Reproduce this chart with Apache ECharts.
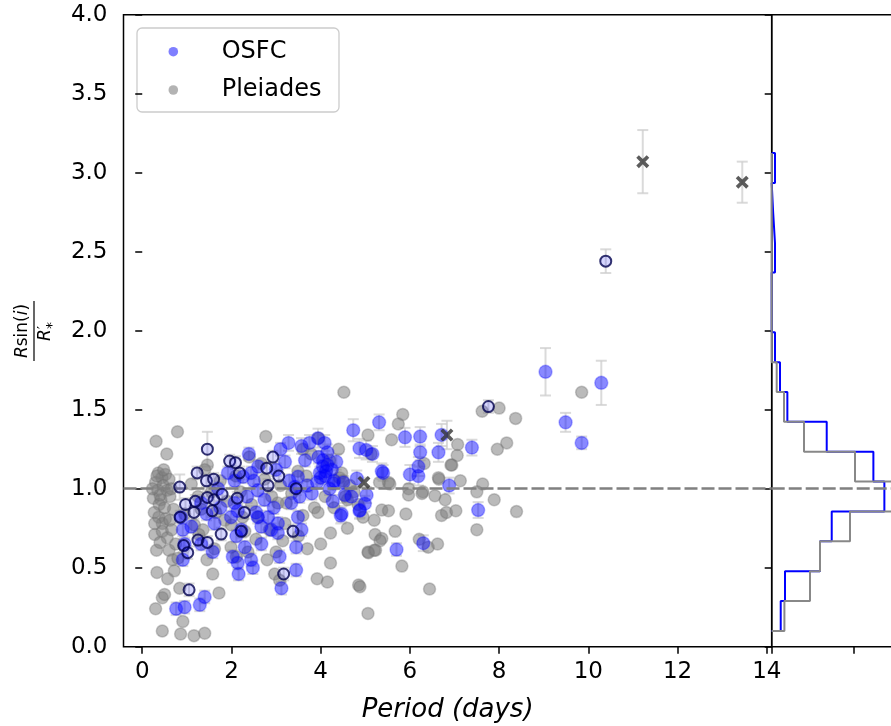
<!DOCTYPE html>
<html>
<head>
<meta charset="utf-8">
<script src="https://cdn.jsdelivr.net/npm/echarts@6/dist/echarts.min.js"></script>
<style>
  html, body { margin: 0; padding: 0; background: #fff; }
  #chart { width: 891px; height: 726px; }
</style>
</head>
<body>
<div id="chart"></div>
<script>
// Period (days) vs projected radius ratio, with marginal histograms of the ratio.

// x-axis tick values
const xTicks = [0, 2, 4, 6, 8, 10, 12, 14];

// Pleiades: [period, ratio]
const pleiades = [
  [0.31,1.30],[0.55,1.22],[0.79,1.36],[0.36,1.10],[0.52,1.09],[0.44,1.07],[0.60,1.06],[0.30,1.04],
  [0.47,1.02],[0.35,0.99],[0.56,0.99],[0.25,0.94],[0.42,0.93],[0.62,0.95],[0.38,0.90],[0.27,0.85],
  [0.37,0.82],[0.52,0.81],[0.45,0.78],[0.62,0.80],[0.28,0.71],[0.45,0.73],[0.56,0.69],[0.32,0.61],
  [0.60,0.61],[0.33,0.47],[0.57,0.43],[0.72,0.48],[0.84,0.37],[0.45,0.31],[0.50,0.33],[0.30,0.24],
  [0.91,0.16],[0.45,0.10],[0.86,0.08],[1.16,0.07],[1.40,0.085],[1.58,0.46],[1.72,0.34],
  [0.33,1.08],[0.48,1.12],[0.40,0.96],[0.65,1.00],[0.70,0.87],[0.50,0.88],[0.23,1.00],[0.28,0.78],
  [0.66,0.74],[0.40,0.66],[0.75,0.65],[0.68,0.55],[0.80,0.56],
  [0.95,0.84],[1.17,0.77],[1.32,0.87],[1.36,0.74],[1.27,0.71],[2.11,0.57],[1.99,0.63],[2.37,0.60],
  [2.67,1.16],[2.74,1.06],[3.23,0.91],[3.04,0.91],[3.86,0.88],[3.94,0.85],[3.79,1.22],[3.49,1.11],
  [3.68,1.08],[4.42,1.07],[4.84,0.90],[1.46,1.15],[1.40,1.12],[2.77,1.33],[1.10,1.03],[1.55,0.98],
  [1.75,1.05],[1.90,0.92],[2.20,0.98],[2.45,0.90],[2.60,0.82],[2.90,0.95],[3.10,1.02],[3.35,0.97],
  [1.85,0.80],[2.30,0.73],[2.55,0.68],[2.85,0.74],[3.20,0.78],[3.60,0.83],[1.62,0.62],[1.45,0.55],
  [2.80,0.55],[3.00,0.60],[3.15,0.67],[2.97,0.46],[3.08,0.42],[3.92,0.43],[4.15,0.41],[4.85,0.39],
  [4.88,0.38],[4.22,0.53],[4.22,0.72],[5.06,0.21],[5.06,0.60],[5.20,0.61],[5.22,0.71],[5.20,0.80],
  [4.52,1.61],[5.06,1.34],[5.13,1.22],[4.10,0.95],[4.30,0.88],[4.55,0.95],[4.65,1.02],[4.40,1.25],
  [3.60,1.25],[3.95,1.32],[4.20,1.18],[2.40,1.20],[2.10,1.08],[1.25,0.95],[1.65,0.85],[2.00,0.77],
  [2.25,0.82],[3.50,0.70],[3.70,0.62],[4.00,0.65],[4.60,0.75],[4.95,0.82],[4.47,1.10],
  [5.84,1.47],[5.74,1.41],[5.59,1.31],[7.07,1.28],[7.06,1.21],[6.94,1.15],[7.62,1.49],[8.00,1.51],
  [8.37,1.445],[8.17,1.29],[7.96,1.25],[9.85,1.61],[5.32,1.04],[5.52,1.04],[5.55,1.03],[5.97,1.00],
  [5.97,0.96],[6.29,0.98],[6.27,0.97],[6.65,1.06],[7.13,1.05],[7.63,1.03],[7.50,0.98],[7.89,0.93],
  [6.56,0.955],[6.79,0.93],[6.71,0.83],[6.82,0.85],[7.03,0.86],[8.39,0.855],[5.37,0.865],[5.52,0.86],
  [5.91,0.84],[5.37,0.685],[5.33,0.67],[5.67,0.73],[5.07,0.595],[5.23,0.61],[5.82,0.51],[6.21,0.68],
  [6.41,0.63],[6.62,0.65],[6.44,0.365],[7.50,0.74],[6.32,1.16],[6.92,1.15],[6.64,1.07],[4.50,1.05],
  [4.60,0.93],[4.75,0.98]
];

// OSFC: [period, ratio, error]
const osfc = [
  [4.73,1.37,0.07],[4.87,1.255,0.06],[5.02,1.245,0.06],[5.16,1.22,0.05],[2.39,1.22,0.04],[3.28,1.29,0.05],
  [3.57,1.27,0.05],[3.75,1.29,0.05],[3.94,1.32,0.06],[4.09,1.29,0.05],[3.95,1.20,0.04],[4.05,1.18,0.04],
  [4.15,1.15,0.04],[4.25,1.12,0.04],[3.98,1.10,0.04],[4.10,1.08,0.04],[4.30,1.05,0.04],[4.20,1.00,0.04],
  [3.92,1.04,0.04],[4.05,1.14,0.04],[4.35,1.17,0.05],[4.15,1.23,0.05],[4.00,1.07,0.04],[4.12,1.11,0.04],
  [4.69,0.95,0.05],[4.87,0.86,0.05],[4.99,0.905,0.05],[4.54,0.96,0.05],[4.27,0.92,0.04],[4.45,0.83,0.05],
  [3.49,1.075,0.04],[3.42,1.01,0.04],[3.53,0.95,0.04],[3.34,0.91,0.04],[3.49,0.82,0.04],[3.57,0.74,0.04],
  [3.45,0.63,0.04],[3.45,0.485,0.04],[3.12,0.37,0.04],[1.92,1.10,0.04],[2.07,1.05,0.04],[2.26,1.075,0.04],
  [2.44,1.10,0.04],[2.59,0.99,0.04],[2.74,0.93,0.04],[2.59,0.82,0.04],[2.67,0.76,0.04],[2.82,0.82,0.04],
  [3.04,0.78,0.04],[2.89,0.74,0.04],[3.04,0.72,0.04],[2.07,0.91,0.04],[2.14,0.86,0.04],[1.99,0.82,0.04],
  [2.11,0.70,0.04],[2.22,0.74,0.04],[2.03,0.57,0.04],[2.14,0.53,0.04],[2.16,0.46,0.04],[2.44,0.55,0.04],
  [2.48,0.50,0.04],[2.67,0.65,0.04],[3.08,0.57,0.04],[0.91,0.74,0.04],[0.95,0.65,0.04],[0.91,0.55,0.04],
  [1.32,0.65,0.04],[1.58,0.60,0.04],[1.62,0.78,0.04],[1.44,0.84,0.04],[1.32,0.91,0.04],[0.76,0.24,0.04],
  [0.95,0.25,0.04],[1.29,0.265,0.04],[1.40,0.315,0.04],[0.87,0.82,0.04],[1.10,0.76,0.04],
  [9.04,1.74,0.15],[9.49,1.42,0.06],[9.85,1.29,0.04],[10.29,1.67,0.14],[5.31,1.42,0.05],[5.89,1.325,0.06],
  [6.23,1.33,0.06],[6.23,1.23,0.05],[6.64,1.23,0.06],[6.71,1.34,0.07],[7.39,1.26,0.05],[5.37,1.11,0.05],
  [5.40,1.10,0.05],[6.00,1.09,0.06],[6.19,1.08,0.06],[6.19,1.14,0.06],[4.81,1.065,0.05],[4.51,1.04,0.04],
  [4.28,1.035,0.04],[5.03,0.96,0.05],[4.88,0.865,0.05],[4.47,0.84,0.05],[6.88,1.02,0.05],[7.53,0.865,0.05],
  [5.70,0.615,0.04],[6.30,0.655,0.05],
  [3.10,1.25,0.04],[3.20,1.17,0.04],[3.00,1.12,0.04],[2.60,1.14,0.04],[2.50,1.05,0.04],[3.30,1.05,0.04],
  [3.65,1.18,0.04],[3.70,1.02,0.04],[3.80,0.97,0.04],[2.95,0.88,0.04],[2.35,0.95,0.04],[1.75,0.88,0.04],
  [1.70,1.00,0.04],[2.30,0.63,0.04],[2.55,0.85,0.04]
];

// OSFC, flagged members (outlined): [period, ratio, error]
const osfcFlagged = [
  [1.46,1.25,0.11],[1.23,1.10,0.04],[1.44,1.05,0.04],[1.60,1.06,0.04],[1.96,1.175,0.04],[2.09,1.165,0.04],
  [2.18,1.10,0.04],[0.84,1.01,0.08],[1.19,0.92,0.04],[0.97,0.90,0.04],[1.16,0.85,0.04],[1.46,0.945,0.04],
  [1.61,0.93,0.04],[1.79,0.965,0.04],[1.57,0.86,0.04],[2.13,0.94,0.04],[0.85,0.82,0.04],[2.29,0.85,0.04],
  [2.93,1.20,0.04],[2.79,1.13,0.04],[3.06,1.08,0.04],[2.82,1.02,0.04],[3.45,1.00,0.04],[1.77,0.713,0.04],
  [2.22,0.73,0.04],[1.25,0.675,0.04],[1.46,0.66,0.04],[0.93,0.64,0.04],[1.02,0.595,0.04],[3.38,0.73,0.04],
  [3.17,0.46,0.04],[1.05,0.36,0.04],[7.76,1.52,0.04],[10.39,2.44,0.075]
];

// OSFC, excluded members (crosses): [period, ratio, error]
const osfcExcluded = [
  [4.97,1.04,0.03],[6.83,1.34,0.09],[11.22,3.07,0.20],[13.45,2.94,0.13]
];

// marginal histograms of the ratio (probability density)
const histEdges = [0.100,0.289,0.478,0.667,0.856,1.045,1.234,1.423,1.612,1.801,1.990,2.179,2.368,2.557,2.746,2.935,3.124];
const histOsfc = [0.110,0.162,0.589,0.732,1.374,1.240,0.671,0.191,0.101,0.040,0,0,0.040,0.018,0,0.040];
const histPleiades = [0.155,0.467,0.589,0.955,1.550,1.016,0.394,0.150,0.061,0,0,0,0,0,0,0];

// horizontal reference level
const refLevel = 1.0;

// legend entries
const legendNames = ['OSFC', 'Pleiades'];
const legendColors = ['rgba(0,0,255,0.5)', 'rgba(128,128,128,0.6)'];

// ---------------------------------------------------------------
const FONT = 'DejaVu Sans';

function stepOutline(edges, dens) {
  const pts = [[0, edges[0]]];
  for (let i = 0; i < dens.length; i++) {
    pts.push([dens[i], edges[i]]);
    pts.push([dens[i], edges[i + 1]]);
  }
  pts.push([0, edges[edges.length - 1]]);
  return pts;
}

const errRows = []
  .concat(osfc, osfcFlagged, osfcExcluded)
  .map(d => [d[0], d[1] - d[2], d[1] + d[2]]);

const crossPath = 'path://M2,0L5,3L8,0L10,2L7,5L10,8L8,10L5,7L2,10L0,8L3,5L0,2Z';

const chart = echarts.init(document.getElementById('chart'), null, { renderer: 'canvas' });

const gridTop = 14.7, gridH = 632;
const mainLeft = 123.5, mainW = 648.2;
const histLeft = 771.7, histW = 200;

const tickStyle = { show: true, inside: false, length: 7, lineStyle: { color: '#000', width: 1.5 } };

// framed legend box in the upper-left corner of the main panel
const legendBox = { x: 137, y: 28, w: 202, h: 84, markX: 173.3, textX: 221.7, rowY: [51.7, 90] };
const legendGraphic = {
  type: 'group', z: 100,
  children: [
    { type: 'rect', shape: { x: legendBox.x, y: legendBox.y, width: legendBox.w, height: legendBox.h, r: 5 },
      style: { fill: 'rgba(255,255,255,0.8)', stroke: '#cccccc', lineWidth: 1.3 } }
  ].concat(
    legendNames.map((name, i) => ({
      type: 'circle', shape: { cx: legendBox.markX, cy: legendBox.rowY[i], r: 4.8 },
      style: { fill: legendColors[i] }
    })),
    legendNames.map((name, i) => ({
      type: 'text', x: legendBox.textX, y: legendBox.rowY[i],
      style: { text: name, align: 'left', verticalAlign: 'middle', font: '24px "DejaVu Sans"', fill: '#000' }
    }))
  )
};

chart.setOption({
  animation: false,
  textStyle: { fontFamily: FONT },
  grid: [
    { left: mainLeft, top: gridTop, width: mainW, height: gridH, show: true, borderColor: '#000', borderWidth: 1.5,
      containLabel: false, outerBoundsMode: 'none' },
    { left: histLeft, top: gridTop, width: histW, height: gridH, show: true, borderColor: '#000', borderWidth: 1.5,
      containLabel: false, outerBoundsMode: 'none' }
  ],
  xAxis: [
    {
      gridIndex: 0, type: 'value', min: -0.42, max: 14.11,
      axisLine: { show: false }, splitLine: { show: false },
      axisTick: Object.assign({ customValues: xTicks }, tickStyle),
      axisLabel: { customValues: xTicks, fontSize: 23, color: '#000', margin: 14, fontFamily: FONT },
      name: 'Period (days)', nameLocation: 'middle', nameGap: 51,
      nameTextStyle: { fontSize: 26, fontStyle: 'italic', color: '#000', fontFamily: FONT }
    },
    {
      gridIndex: 1, type: 'value', min: 0, max: histW / 82, interval: 1,
      axisLine: { show: false }, splitLine: { show: false },
      axisTick: tickStyle, axisLabel: { show: false }
    }
  ],
  yAxis: [
    {
      gridIndex: 0, type: 'value', min: 0, max: 4, interval: 0.5,
      axisLine: { show: false }, splitLine: { show: false },
      axisTick: tickStyle,
      axisLabel: { fontSize: 23, color: '#000', margin: 16, fontFamily: FONT, formatter: v => v.toFixed(1) }
    },
    {
      gridIndex: 1, type: 'value', min: 0, max: 4, interval: 0.5,
      axisLine: { show: false }, splitLine: { show: false },
      axisTick: tickStyle, axisLabel: { show: false }
    }
  ],
  series: [
    {
      name: 'errors', type: 'custom', xAxisIndex: 0, yAxisIndex: 0, z: 1,
      data: errRows, silent: true,
      renderItem: function (params, api) {
        const lo = api.coord([api.value(0), api.value(1)]);
        const hi = api.coord([api.value(0), api.value(2)]);
        const cap = 5.5;
        const st = { stroke: 'rgba(205,205,205,0.75)', lineWidth: 2 };
        return {
          type: 'group',
          children: [
            { type: 'line', shape: { x1: lo[0], y1: lo[1], x2: hi[0], y2: hi[1] }, style: st },
            { type: 'line', shape: { x1: lo[0] - cap, y1: lo[1], x2: lo[0] + cap, y2: lo[1] }, style: st },
            { type: 'line', shape: { x1: hi[0] - cap, y1: hi[1], x2: hi[0] + cap, y2: hi[1] }, style: st }
          ]
        };
      }
    },
    {
      name: 'Pleiades', type: 'scatter', xAxisIndex: 0, yAxisIndex: 0, z: 2,
      data: pleiades, symbol: 'circle', symbolSize: 12,
      itemStyle: { color: 'rgba(128,128,128,0.68)', borderColor: 'rgba(110,110,110,0.45)', borderWidth: 1.5 }
    },
    {
      name: 'reference', type: 'line', xAxisIndex: 0, yAxisIndex: 0, z: 3, data: [],
      markLine: {
        silent: true, symbol: ['none', 'none'], label: { show: false },
        lineStyle: { color: '#808080', width: 2.5, type: [13, 4] },
        data: [{ yAxis: refLevel }]
      }
    },
    {
      name: 'OSFC', type: 'scatter', xAxisIndex: 0, yAxisIndex: 0, z: 4,
      data: osfc.map(d => [d[0], d[1]]), symbol: 'circle', symbolSize: 13,
      itemStyle: { color: 'rgba(0,0,255,0.58)', borderColor: 'rgba(0,0,255,0.35)', borderWidth: 1.5 }
    },
    {
      name: 'OSFC flagged', type: 'scatter', xAxisIndex: 0, yAxisIndex: 0, z: 5,
      data: osfcFlagged.map(d => [d[0], d[1]]), symbol: 'circle', symbolSize: 11,
      itemStyle: { color: 'rgba(0,0,255,0.2)', borderColor: '#00004d', borderWidth: 2 }
    },
    {
      name: 'OSFC excluded', type: 'scatter', xAxisIndex: 0, yAxisIndex: 0, z: 6,
      data: osfcExcluded.map(d => [d[0], d[1]]), symbol: crossPath, symbolSize: 13,
      itemStyle: { color: '#333333' }
    },
    {
      name: 'OSFC hist', type: 'line', xAxisIndex: 1, yAxisIndex: 1, z: 2,
      data: stepOutline(histEdges, histOsfc), showSymbol: false, symbol: 'none',
      lineStyle: { color: '#0000ff', width: 2 }
    },
    {
      name: 'Pleiades hist', type: 'line', xAxisIndex: 1, yAxisIndex: 1, z: 3,
      data: stepOutline(histEdges, histPleiades), showSymbol: false, symbol: 'none',
      lineStyle: { color: '#888888', width: 2 }
    },
    {
      name: 'reference hist', type: 'line', xAxisIndex: 1, yAxisIndex: 1, z: 4, data: [],
      markLine: {
        silent: true, symbol: ['none', 'none'], label: { show: false },
        lineStyle: { color: '#808080', width: 2.5, type: [13, 4] },
        data: [{ yAxis: refLevel }]
      }
    }
  ],
  graphic: [
    legendGraphic,
    {
      type: 'group', x: 34, y: 331, rotation: Math.PI / 2,
      children: [
        { type: 'line', shape: { x1: -30, y1: 0, x2: 30, y2: 0 }, style: { stroke: '#000', lineWidth: 1.2 } },
        {
          type: 'text', x: 0, y: -3,
          style: {
            text: '{it|R}sin({it|i})', align: 'center', verticalAlign: 'bottom',
            font: '17px "DejaVu Sans"', fill: '#000',
            rich: { it: { fontStyle: 'italic', fontSize: 17, fontFamily: FONT } }
          }
        },
        { type: 'text', x: -4, y: 3, style: { text: 'R', align: 'center', verticalAlign: 'top', font: 'italic 17px "DejaVu Sans"', fill: '#000' } },
        { type: 'text', x: 2, y: 2, style: { text: '′', align: 'left', verticalAlign: 'top', font: '13px "DejaVu Sans"', fill: '#000' } },
        { type: 'text', x: 2, y: 11, style: { text: '*', align: 'left', verticalAlign: 'top', font: '14px "DejaVu Sans"', fill: '#000' } }
      ]
    }
  ]
});
</script>
</body>
</html>
